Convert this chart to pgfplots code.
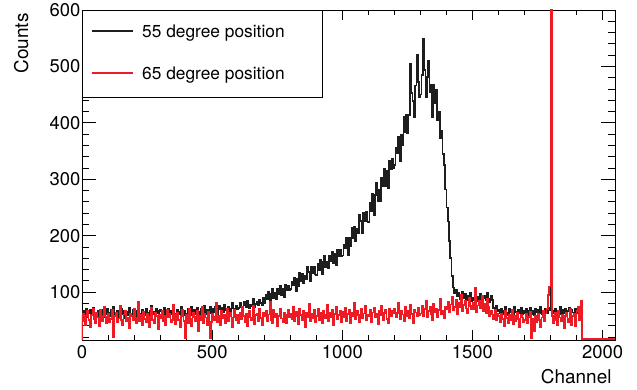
\documentclass[border=0pt]{standalone}
\usepackage{fontspec}
\setmainfont{TeX Gyre Heros}
\usepackage{pgfplots}
\usepackage{pgfplotstable}
\pgfplotsset{compat=1.18}
\definecolor{rootred}{RGB}{237,28,36}
\definecolor{rootblack}{RGB}{30,30,30}
\pgfplotstableread{
ch b r
0 15 15
0 58 48
5 66 62
10 61 41
15 70 57
20 55 66
25 63 50
30 68 38
35 59 59
40 72 71
45 57 52
50 64 45
55 60 63
60 67 55
65 53 40
70 62 68
75 69 49
80 56 58
85 65 73
90 61 44
95 71 56
100 64 61
105 57 47
110 69 52
115 61 69
120 74 20
125 58 57
130 63 64
135 66 46
140 55 53
145 62 75
150 70 50
155 60 42
160 67 60
165 54 67
170 65 48
175 59 55
180 72 36
185 61 62
190 57 58
195 68 51
200 60 70
205 67 45
210 58 54
215 73 83
220 62 49
225 56 59
230 69 42
235 64 65
240 59 52
245 71 47
250 63 61
255 57 38
260 66 56
265 75 72
270 61 50
275 65 44
280 58 63
285 70 57
290 62 35
295 67 60
300 68 53
305 59 66
310 65 48
315 72 58
320 61 41
325 57 69
330 70 55
335 63 62
340 66 46
345 60 51
350 74 77
355 62 43
360 58 59
365 69 64
370 65 50
375 61 37
380 73 57
385 64 68
390 67 49
395 59 18
400 62 60
405 70 45
410 66 71
415 59 52
420 74 39
425 64 63
430 68 56
435 61 48
440 72 67
445 65 31
450 58 58
455 71 50
460 67 74
465 63 44
470 76 61
475 60 55
480 69 42
485 66 65
490 73 18
495 62 47
500 70 62
505 64 50
510 73 56
515 67 80
520 61 46
525 75 58
530 69 41
535 72 66
540 65 53
545 78 60
550 68 44
555 63 70
560 74 49
565 70 57
570 66 63
575 80 38
580 71 55
585 67 68
590 76 51
595 69 59
600 72 45
605 80 64
610 74 52
615 70 73
620 83 58
625 76 47
630 73 61
635 85 39
640 71 67
645 78 55
650 75 50
655 88 76
660 74 43
665 79 59
670 82 62
675 76 48
680 86 70
685 80 54
690 77 41
695 90 63
700 81 57
705 95 66
710 87 49
715 100 60
720 81 82
725 97 51
730 106 45
735 90 68
740 98 56
745 88 62
750 105 40
755 97 58
760 111 71
765 94 53
770 106 47
775 91 64
780 112 59
785 104 44
790 111 69
795 103 55
800 105 61
805 118 52
810 112 74
815 125 48
820 102 65
825 123 57
830 111 43
835 134 70
840 119 59
845 132 50
850 115 67
855 129 38
860 122 63
865 144 56
870 135 79
875 120 49
880 144 62
885 133 54
890 144 68
895 131 46
900 130 58
905 150 71
910 139 50
915 157 64
920 132 45
925 153 67
930 165 60
935 144 53
940 154 78
945 142 48
950 165 63
955 154 56
960 172 69
965 151 42
970 167 61
975 147 74
980 175 52
985 164 59
990 174 66
995 163 47
1000 165 65
1005 184 55
1010 177 72
1015 196 48
1020 166 61
1025 196 68
1030 181 44
1035 214 63
1040 195 57
1045 215 80
1050 191 52
1055 212 66
1060 204 59
1065 236 46
1070 226 70
1075 205 54
1080 241 62
1085 225 75
1090 243 50
1095 225 60
1100 224 58
1105 258 69
1110 243 47
1115 274 64
1120 236 72
1125 272 55
1130 294 61
1135 261 43
1140 282 67
1145 262 59
1150 303 76
1155 287 50
1160 319 63
1165 287 68
1170 315 52
1175 285 45
1180 333 71
1185 317 57
1190 337 66
1195 320 62
1200 325 70
1205 356 56
1210 346 63
1215 376 81
1220 332 52
1225 379 67
1230 360 60
1235 410 48
1240 383 74
1245 414 58
1250 381 66
1255 414 53
1260 505 77
1265 453 61
1270 439 45
1275 410 69
1280 466 64
1285 520 57
1290 472 72
1295 446 59
1300 450 62
1305 485 75
1310 548 58
1315 494 70
1320 445 84
1325 481 55
1330 510 67
1335 454 73
1340 467 60
1345 410 50
1350 468 79
1355 435 64
1360 459 71
1365 405 56
1370 420 68
1375 372 88
1380 385 61
1385 345 66
1390 325 53
1395 282 74
1400 250 70
1405 225 83
1410 190 65
1415 160 78
1420 128 92
1425 108 68
1430 98 74
1435 104 86
1440 92 60
1445 99 80
1450 88 73
1455 95 95
1460 101 66
1465 90 77
1470 97 84
1475 86 71
1480 93 62
1485 88 89
1490 99 75
1495 84 69
1500 90 81
1505 86 70
1510 95 108
1515 84 64
1520 92 76
1525 88 85
1530 97 72
1535 83 93
1540 89 67
1545 93 79
1550 85 62
1555 98 88
1560 88 74
1565 82 58
1570 94 66
1575 86 60
1580 72 52
1585 68 68
1590 75 50
1595 66 61
1600 68 58
1605 62 47
1610 71 62
1615 60 52
1620 66 40
1625 73 66
1630 63 54
1635 59 45
1640 70 60
1645 64 50
1650 67 68
1655 61 43
1660 74 57
1665 65 49
1670 58 63
1675 69 52
1680 63 38
1685 72 59
1690 60 55
1695 66 46
1700 63 50
1705 70 61
1710 58 44
1715 67 56
1720 72 65
1725 61 18
1730 66 53
1735 59 30
1740 71 58
1745 64 47
1750 68 62
1755 62 51
1760 73 38
1765 60 55
1770 67 67
1775 65 49
1780 70 62
1785 63 70
1790 72 95
1795 68 110
1800 250 2000
1805 66 58
1810 62 45
1815 71 63
1820 58 50
1825 67 41
1830 64 67
1835 73 55
1840 60 48
1845 68 60
1850 63 36
1855 70 58
1860 57 64
1865 66 47
1870 72 53
1875 61 70
1880 69 42
1885 64 57
1890 59 62
1895 71 39
1900 65 66
1905 62 73
1910 74 50
1915 68 85
1920 16.2 16.2
2048 16.2 16.2
}\spec

\begin{document}
\begin{tikzpicture}
\path[use as bounding box] (-82bp,-50bp) rectangle (555bp,340bp);
\begin{axis}[
  scale only axis, width=533bp, height=330bp,
  xmin=0, xmax=2048, ymin=15, ymax=600,
  xtick={0,500,...,2000}, ytick={0,100,...,600},
  minor x tick num=4, minor y tick num=4,
  tick align=inside,
  axis line style={line width=0.8bp},
  tick style={black, line width=0.8bp},
  x tick style={/pgfplots/major tick length=10bp,/pgfplots/minor tick length=5bp},
  y tick style={/pgfplots/major tick length=14bp,/pgfplots/minor tick length=7bp},
  ticklabel style={font=\fontsize{18.5}{20}\selectfont},
  /pgf/number format/assume math mode=true,
  /pgf/number format/1000 sep={},
  xticklabel style={yshift=-2bp},
  yticklabel style={xshift=2bp},
  xlabel={Channel}, ylabel={Counts},
  label style={font=\fontsize{19}{22}\selectfont},
  xlabel style={at={(rel axis cs:1,-0.1333)}, anchor=base east},
  ylabel style={at={(rel axis cs:-0.1013,1)}, anchor=base east},
]
\addplot[const plot, rootblack, line width=1.7bp] table[x=ch, y=b] {\spec};
\addplot[const plot, rootred, line width=1.7bp] table[x=ch, y=r] {\spec};
\end{axis}
\draw[line width=0.8bp, fill=white] (0bp,330bp) rectangle (240bp,243bp);
\draw[rootblack, line width=1.6bp] (10bp,308.7bp) -- (51bp,308.7bp);
\node[anchor=base west, inner sep=0pt, font=\fontsize{17.4}{20}\selectfont] at (60bp,302.7bp) {55 degree position};
\draw[rootred, line width=1.6bp] (10bp,266.7bp) -- (51bp,266.7bp);
\node[anchor=base west, inner sep=0pt, font=\fontsize{17.4}{20}\selectfont] at (60bp,260.7bp) {65 degree position};
\end{tikzpicture}
\end{document}
